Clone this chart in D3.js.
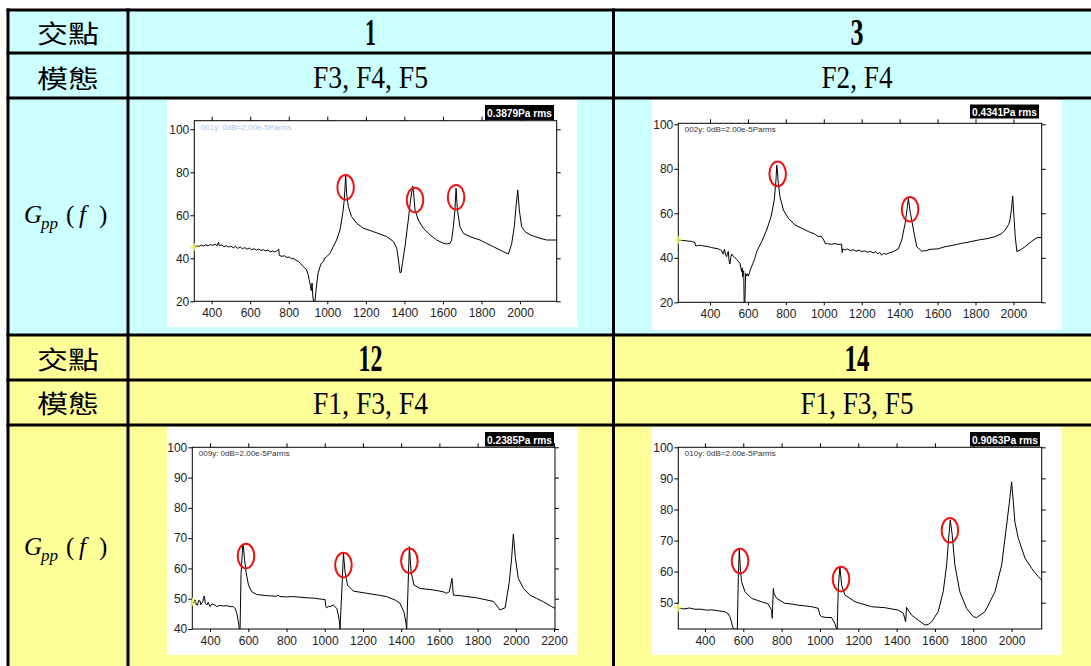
<!DOCTYPE html>
<html><head><meta charset="utf-8">
<script src="https://cdn.jsdelivr.net/npm/d3@7"></script>
<style>body{margin:0;background:#fff;} svg{display:block;}</style>
</head><body>
<svg id="c" width="1091" height="666"></svg>
<script>
// ---------------- DATA ----------------
const rowLabels = ["交點", "模態"];
const pointLabels = ["1", "3", "12", "14"];
const modeLabels = ["F3, F4, F5", "F2, F4", "F1, F3, F4", "F1, F3, F5"];
const rmsLabels = ["0.3879Pa rms", "0.4341Pa rms", "0.2385Pa rms", "0.9063Pa rms"];
const channelLabels = ["001y: 0dB=2.00e-5Parms", "002y: 0dB=2.00e-5Parms", "009y: 0dB=2.00e-5Parms", "010y: 0dB=2.00e-5Parms"];

const xTicks1 = [400, 600, 800, 1000, 1200, 1400, 1600, 1800, 2000];
const xTicks2 = [400, 600, 800, 1000, 1200, 1400, 1600, 1800, 2000];
const xTicks3 = [400, 600, 800, 1000, 1200, 1400, 1600, 1800, 2000, 2200];
const xTicks4 = [400, 600, 800, 1000, 1200, 1400, 1600, 1800, 2000];
const yTicks1 = [20, 40, 60, 80, 100];
const yTicks2 = [20, 40, 60, 80, 100];
const yTicks3 = [40, 50, 60, 70, 80, 90, 100];
const yTicks4 = [50, 60, 70, 80, 90, 100];

// spectra: [frequency Hz, level dB]
const spectrum1 = [[310,45.2],[322,45.8],[334,45.5],[346,46.1],[358,45.7],[370,46.3],[382,45.9],[394,46.4],[406,46.0],[418,46.6],[428,45.8],[435,47.4],[440,45.9],[452,46.2],[464,45.4],[476,45.9],[488,45.2],[500,45.7],[512,44.9],[524,45.5],[536,44.6],[548,45.3],[560,44.4],[572,45.0],[584,44.2],[596,44.8],[608,43.9],[620,44.5],[632,43.8],[644,44.3],[656,43.6],[668,44.0],[680,43.5],[692,43.8],[704,43.0],[716,43.4],[728,42.9],[740,43.6],[748,44.3],[751,41.3],[765,40.9],[778,41.2],[790,40.4],[802,40.6],[814,39.8],[826,39.9],[838,39.0],[850,38.6],[862,37.5],[872,36.4],[882,35.6],[892,34.8],[900,32.5],[906,30.0],[912,27.5],[917,25.0],[921,28.5],[925,22.0],[929,20.0],[936,20.0],[940,24.0],[945,28.0],[952,33.0],[962,36.0],[970,37.8],[979,38.5],[988,40.2],[997,40.8],[1014,42.3],[1031,45.4],[1048,48.5],[1066,53.2],[1080,60.9],[1088,67.1],[1093,75.0],[1095,78.8],[1098,74.0],[1100,70.2],[1109,64.0],[1126,59.4],[1152,56.3],[1187,54.0],[1239,52.4],[1308,50.1],[1343,47.8],[1360,44.7],[1368,40.0],[1377,33.3],[1383,33.5],[1390,38.0],[1403,45.4],[1420,57.8],[1432,67.1],[1443,73.6],[1448,70.0],[1455,62.5],[1472,57.8],[1498,54.0],[1533,50.9],[1567,48.5],[1602,47.0],[1619,46.7],[1637,47.0],[1645,48.5],[1654,54.7],[1662,62.5],[1668,72.6],[1675,62.5],[1688,54.7],[1706,51.6],[1740,50.1],[1792,48.5],[1861,45.4],[1913,43.1],[1939,42.0],[1956,46.5],[1970,54.7],[1979,64.0],[1988,71.8],[1996,62.5],[2008,54.7],[2026,52.4],[2052,50.9],[2078,50.1],[2103,49.3],[2138,48.5],[2190,48.5]];

const spectrum2 = [[233,48.0],[250,47.8],[268,47.7],[285,47.5],[303,47.4],[321,46.8],[324,45.3],[340,45.6],[356,45.5],[374,45.2],[391,45.0],[408,44.6],[426,44.3],[444,44.0],[455,43.6],[462,43.2],[466,42.0],[470,41.7],[476,43.8],[482,41.5],[488,40.5],[493,42.5],[497,42.8],[501,38.5],[505,37.2],[510,40.2],[514,41.7],[523,40.8],[532,40.0],[541,39.3],[550,38.4],[558,37.5],[567,33.8],[570,35.5],[572,31.5],[575,33.6],[578,34.2],[580,20],[584,20],[588,33.0],[593,31.8],[598,32.8],[602,31.8],[609,33.5],[616,35.3],[626,37.5],[637,39.8],[645,42.5],[655,44.3],[673,47.3],[699,52.5],[722,58.5],[739,66.0],[748,75.0],[752,81.7],[756,79.0],[760,73.5],[769,67.5],[787,61.5],[813,57.8],[848,54.8],[884,53.3],[919,51.8],[950,50.8],[971,49.5],[985,49.8],[1000,48.0],[1007,46.5],[1020,46.3],[1042,46.1],[1060,46.4],[1075,46.0],[1094,46.1],[1097,42.3],[1100,44.0],[1112,43.5],[1125,44.0],[1140,43.3],[1155,43.6],[1170,43.0],[1185,43.4],[1200,42.8],[1215,43.1],[1230,42.5],[1245,42.9],[1260,42.2],[1272,42.7],[1285,41.8],[1295,42.4],[1305,41.2],[1315,42.0],[1330,41.6],[1345,42.2],[1360,42.6],[1375,43.2],[1393,44.0],[1411,48.0],[1429,55.5],[1441,63.0],[1446,66.7],[1455,61.0],[1473,52.5],[1490,45.0],[1516,43.0],[1540,43.2],[1560,43.8],[1600,44.0],[1640,45.0],[1680,45.6],[1700,46.0],[1727,46.5],[1760,47.0],[1815,48.0],[1860,48.6],[1903,49.5],[1940,51.0],[1956,52.5],[1975,55.0],[1982,57.0],[1990,62.0],[1996,67.8],[2003,58.0],[2009,50.0],[2018,42.8],[2035,43.5],[2062,45.0],[2097,47.5],[2123,49.0],[2149,49.2]];

const spectrum3 = [[308,49.0],[315,48.6],[322,49.6],[328,48.0],[334,47.9],[340,49.4],[348,49.2],[352,48.0],[356,48.5],[362,49.0],[365,50.1],[370,50.9],[375,48.5],[383,47.9],[390,48.8],[400,47.4],[410,48.3],[417,48.1],[430,47.8],[435,47.4],[452,47.8],[470,47.6],[487,47.7],[505,47.4],[522,47.4],[531,46.8],[540,45.2],[548,42.4],[553,40],[557,40],[562,58.0],[571,67.7],[574,67.5],[580,63.3],[588,58.9],[601,54.5],[618,52.3],[644,51.4],[697,51.0],[750,50.8],[756,51.2],[766,50.7],[800,50.6],[836,50.7],[870,50.5],[906,50.3],[940,50.2],[976,49.9],[1002,49.7],[1006,47.4],[1010,47.0],[1020,47.5],[1028,47.4],[1045,47.9],[1063,46.8],[1070,45.0],[1077,42.4],[1080,40],[1089,52.0],[1098,65.0],[1106,58.9],[1119,54.5],[1150,52.5],[1220,51.8],[1280,51.2],[1324,50.7],[1370,49.5],[1394,48.5],[1415,45.5],[1425,42.0],[1429,40],[1438,57.8],[1443,67.2],[1452,58.9],[1467,54.5],[1499,53.4],[1569,52.9],[1620,52.3],[1638,51.8],[1652,52.3],[1659,54.5],[1666,56.7],[1673,51.2],[1708,51.0],[1795,50.3],[1883,49.1],[1917,46.3],[1944,47.0],[1966,55.6],[1978,63.3],[1987,71.3],[1998,63.3],[2013,56.7],[2040,53.4],[2074,51.2],[2109,50.1],[2144,49.0],[2188,47.4],[2205,46.8]];

const spectrum4 = [[261,48.4],[290,48.0],[320,48.3],[348,47.9],[380,47.9],[410,47.6],[435,47.7],[470,47.4],[504,47.1],[520,46.5],[530,45.5],[543,42.8],[548,41.5],[569,41.5],[574,58.0],[579,67.0],[586,60.0],[591,56.8],[609,53.5],[643,51.4],[696,50.3],[730,49.6],[748,47.5],[751,45.0],[757,54.6],[760,53.0],[774,51.4],[817,49.8],[850,49.6],[887,49.2],[920,49.0],[957,48.7],[991,48.2],[1000,46.0],[1009,45.5],[1026,45.3],[1061,45.2],[1078,43.3],[1087,41.5],[1090,41.5],[1096,55.0],[1104,61.6],[1113,55.7],[1130,52.5],[1183,50.3],[1270,48.7],[1339,48.4],[1409,47.6],[1435,46.6],[1447,43.9],[1452,48.5],[1478,46.0],[1513,44.4],[1548,42.8],[1565,43.0],[1583,43.9],[1617,47.1],[1643,53.5],[1661,62.1],[1673,71.8],[1680,76.6],[1690,71.8],[1704,62.1],[1730,53.5],[1765,48.2],[1800,45.5],[1817,45.2],[1861,47.1],[1913,53.5],[1948,62.1],[1974,75.0],[1991,83.6],[2000,88.9],[2009,82.5],[2017,76.0],[2035,70.7],[2070,64.3],[2104,61.1],[2139,58.4],[2157,57.3]];

// marked resonance peaks (centre frequency, centre level)
const circles1 = [[1095,73.0],[1455,67.1],[1668,68.4]];
const circles2 = [[757,77.7],[1455,61.8]];
const circles3 = [[588,64.1],[1098,61.1],[1443,62.5]];
const circles4 = [[583,63.4],[1110,57.6],[1678,73.3]];

// ---------------- LAYOUT ----------------
const svg = d3.select("#c");
const CYAN = "#ccffff", YEL = "#ffff99";

svg.append("rect").attr("x",8).attr("y",10).attr("width",1083).attr("height",325).attr("fill",CYAN);
svg.append("rect").attr("x",8).attr("y",335).attr("width",1083).attr("height",331).attr("fill",YEL);

const panels = [
  {img:[167,99,410,228], f:[194.3,120.7,556.7,301.3], xd:[310,2190], yd:[20,104], xt:xTicks1, yt:yTicks1, data:spectrum1, circ:circles1, rms:[485,105,69,15], lab:rmsLabels[0], ch:channelLabels[0], chColor:"#a9c4ec"},
  {img:[652,99,410,231], f:[678.3,123.3,1041.7,302.3], xd:[233,2149], yd:[20,100.45], xt:xTicks2, yt:yTicks2, data:spectrum2, circ:circles2, rms:[970,104.5,69,14], lab:rmsLabels[1], ch:channelLabels[1], chColor:"#333"},
  {img:[167,427,410,228], f:[192.3,447.3,555,629], xd:[307,2205], yd:[40,100], xt:xTicks3, yt:yTicks3, data:spectrum3, circ:circles3, rms:[485,432,69,14.5], lab:rmsLabels[2], ch:channelLabels[2], chColor:"#333"},
  {img:[652,427,410,228], f:[678.3,447.3,1041.7,629], xd:[261,2157], yd:[41.54,100], xt:xTicks4, yt:yTicks4, data:spectrum4, circ:circles4, rms:[970,432,70,14.5], lab:rmsLabels[3], ch:channelLabels[3], chColor:"#333"}
];

const defs = svg.append("defs");

panels.forEach((p, i) => {
  const g = svg.append("g");
  g.append("rect").attr("x",p.img[0]).attr("y",p.img[1]).attr("width",p.img[2]).attr("height",p.img[3]).attr("fill","#fff");
  const x = d3.scaleLinear().domain(p.xd).range([p.f[0], p.f[2]]);
  const y = d3.scaleLinear().domain(p.yd).range([p.f[3], p.f[1]]);

  const styleAxis = sel => {
    sel.select(".domain").remove();
    sel.selectAll(".tick line").attr("stroke","#000").attr("stroke-width",1);
    sel.selectAll(".tick text").attr("fill","#222").style("font-family","'Liberation Sans', Arial, sans-serif").style("font-size","12px");
  };
  g.append("g").attr("transform",`translate(${p.f[0]},0)`)
    .call(d3.axisLeft(y).tickValues(p.yt).tickSize(4).tickPadding(1).tickFormat(d3.format("d"))).call(styleAxis);
  g.append("g").attr("transform",`translate(${p.f[2]},0)`)
    .call(d3.axisRight(y).tickValues(p.yt).tickSize(4).tickFormat("")).call(styleAxis);
  g.append("g").attr("transform",`translate(0,${p.f[1]})`)
    .call(d3.axisTop(x).tickValues(p.xt).tickSize(4).tickFormat("")).call(styleAxis);
  g.append("g").attr("transform",`translate(0,${p.f[3]})`)
    .call(d3.axisBottom(x).tickValues(p.xt).tickSize(3).tickPadding(4).tickFormat(d3.format("d"))).call(styleAxis);

  const cid = "clip" + i;
  defs.append("clipPath").attr("id",cid).append("rect")
    .attr("x",p.f[0]).attr("y",p.f[1]).attr("width",p.f[2]-p.f[0]).attr("height",p.f[3]-p.f[1]);

  g.append("path").datum(p.data).attr("clip-path",`url(#${cid})`)
    .attr("fill","none").attr("stroke","#000").attr("stroke-width",1).attr("stroke-linejoin","round")
    .attr("d", d3.line().x(d=>x(d[0])).y(d=>y(d[1])));

  g.append("rect").attr("x",p.f[0]).attr("y",p.f[1]).attr("width",p.f[2]-p.f[0]).attr("height",p.f[3]-p.f[1])
    .attr("fill","none").attr("stroke","#000").attr("stroke-width",1);

  g.selectAll("ellipse.pk").data(p.circ).enter().append("ellipse")
    .attr("cx",d=>x(d[0])).attr("cy",d=>y(d[1])).attr("rx",8.3).attr("ry",12.3)
    .attr("fill","none").attr("stroke","#ee1111").attr("stroke-width",2);

  // cursor marker
  const c0 = p.data[0];
  g.append("path").attr("d",`M${x(c0[0])-4},${y(c0[1])}h8M${x(c0[0])},${y(c0[1])-4}v8`)
    .attr("stroke","#eeee55").attr("stroke-width",1.2);

  g.append("text").attr("x",p.f[0]+6.5).attr("y",p.f[1]+9).text(p.ch)
    .attr("fill",p.chColor).style("font-family","'Liberation Sans', Arial, sans-serif").style("font-size","8px")
    .attr("textLength",91).attr("lengthAdjust","spacingAndGlyphs");

  g.append("rect").attr("x",p.rms[0]).attr("y",p.rms[1]).attr("width",p.rms[2]).attr("height",p.rms[3]).attr("fill","#000");
  g.append("text").attr("x",p.rms[0]+2).attr("y",p.rms[1]+p.rms[3]-3).text(p.lab)
    .attr("fill","#fff").style("font-family","'Liberation Sans Narrow','Liberation Sans', Arial, sans-serif")
    .style("font-weight","bold").style("font-size","11.5px")
    .attr("textLength",p.rms[2]-4).attr("lengthAdjust","spacingAndGlyphs");
});

// ---------------- TABLE TEXT ----------------
const cjk = "'Noto Sans CJK TC','Noto Sans CJK SC',sans-serif";
const serif = "'Liberation Serif','Times New Roman',serif";
const rowBase = [[43, 87.5], [369, 413]];
rowBase.forEach(rb => {
  rowLabels.forEach((t, k) => {
    svg.append("text").attr("x",37).attr("y",rb[k]).text(t)
      .style("font-family",cjk).style("font-size","25px").attr("fill","#000")
      .attr("textLength",62).attr("lengthAdjust","spacingAndGlyphs");
  });
});

const colCx = [370.5, 857];
const numW = {"1":11, "3":13, "12":24, "14":25};
const modeW = [115, 71, 115, 113];
pointLabels.forEach((t, i) => {
  const cx = colCx[i % 2], r = Math.floor(i / 2);
  const base = rowBase[r];
  svg.append("text").attr("x",cx - numW[t]/2).attr("y",base[0] + 2).text(t)
    .style("font-family",serif).style("font-weight","bold").style("font-size","37px").attr("fill","#000")
    .attr("textLength",numW[t]).attr("lengthAdjust","spacingAndGlyphs");
  svg.append("text").attr("x",cx - modeW[i]/2).attr("y",base[1] + 0.5).text(modeLabels[i])
    .style("font-family",serif).style("font-size","32px").attr("fill","#000")
    .attr("textLength",modeW[i]).attr("lengthAdjust","spacingAndGlyphs");
});

// G_pp(f) labels
[223, 555].forEach(by => {
  const gt = svg.append("g").style("font-family",serif).attr("fill","#000");
  gt.append("text").attr("x",24).attr("y",by).text("G").style("font-style","italic").style("font-size","25px");
  gt.append("text").attr("x",41).attr("y",by+6).text("pp").style("font-style","italic").style("font-size","17px");
  gt.append("text").attr("x",66).attr("y",by).text("(").style("font-size","25px");
  gt.append("text").attr("x",79).attr("y",by).text("f").style("font-style","italic").style("font-size","25px");
  gt.append("text").attr("x",99).attr("y",by).text(")").style("font-size","25px");
});

// ---------------- BORDERS ----------------
const hLines = [10, 53, 98, 335, 380, 425];
const vLines = [8, 128, 613.5];
svg.selectAll("line.h").data(hLines).enter().append("line")
  .attr("x1",6.5).attr("x2",1091).attr("y1",d=>d).attr("y2",d=>d).attr("stroke","#000").attr("stroke-width",3);
svg.selectAll("line.v").data(vLines).enter().append("line")
  .attr("x1",d=>d).attr("x2",d=>d).attr("y1",8.5).attr("y2",666).attr("stroke","#000").attr("stroke-width",3);
</script>
</body></html>
